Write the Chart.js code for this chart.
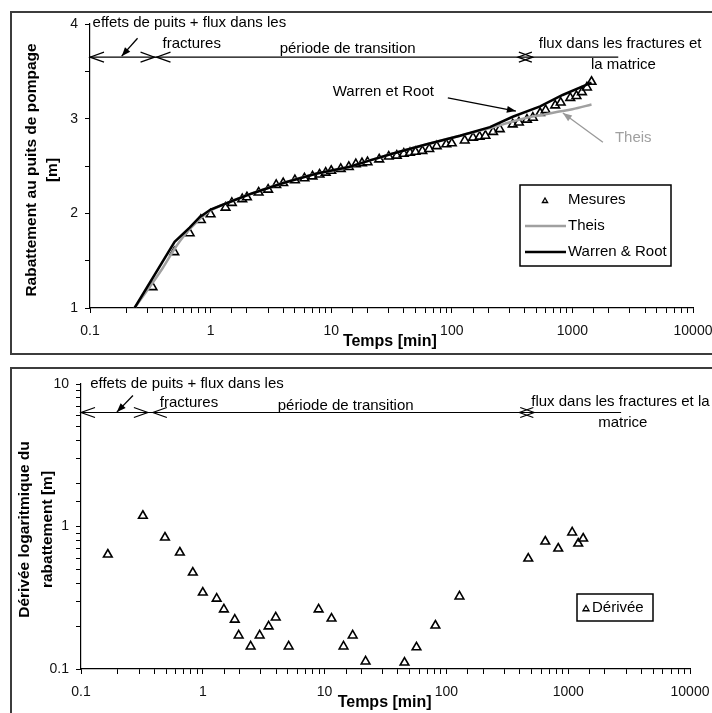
<!DOCTYPE html>
<html>
<head>
<meta charset="utf-8">
<script src="https://cdn.jsdelivr.net/npm/chart.js@4.4.0/dist/chart.umd.min.js"></script>
<style>
html, body { margin: 0; padding: 0; overflow: hidden; background: #fff; }
body { width: 712px; height: 713px; position: relative; }
.frame { position: absolute; border: 2px solid #3c3c3c; }
canvas { position: absolute; left: 0; }
</style>
</head>
<body>
<div class="frame" style="left:10px;top:11px;width:740px;height:340px"></div>
<div class="frame" style="left:10px;top:367px;width:740px;height:400px"></div>
<canvas id="rabChart" width="740" height="360" style="top:0"></canvas>
<canvas id="derChart" width="740" height="360" style="top:360px"></canvas>
<script>
// temps [min] et rabattement [m] mesures
const mesTimes = [0.33, 0.5, 0.67, 0.83, 1, 1.33, 1.5, 1.83, 2, 2.5, 3, 3.5, 4, 5, 6, 7, 8, 9, 10, 12, 14, 16, 18, 20,
    25, 30, 35, 40, 45, 50, 57, 65, 75, 90, 100, 128, 150, 170, 190, 220, 250, 320, 360, 420, 470, 540, 600, 720,
    800, 960, 1080, 1200, 1320, 1440];
const mesValues = [1.22, 1.59, 1.79, 1.93, 1.99, 2.06, 2.11, 2.15, 2.17, 2.22, 2.25, 2.30, 2.32, 2.35, 2.37, 2.39, 2.41, 2.43, 2.45, 2.47, 2.49, 2.52, 2.53, 2.54,
    2.57, 2.60, 2.61, 2.63, 2.64, 2.65, 2.66, 2.68, 2.71, 2.73, 2.74, 2.77, 2.80, 2.81, 2.82, 2.86, 2.89, 2.94, 2.96, 2.99, 3.01, 3.06, 3.09, 3.14,
    3.17, 3.22, 3.24, 3.28, 3.33, 3.39];

// modele de Theis
const theisTimes = [0.234, 0.4, 0.5, 0.6, 0.8, 1, 1.44, 2.2, 4, 7.6, 14, 21, 32, 62, 117, 207, 320, 420, 560, 740, 1000, 1440];
const theisValues = [1.0, 1.42, 1.62, 1.76, 1.93, 2.03, 2.12, 2.21, 2.32, 2.42, 2.49, 2.56, 2.63, 2.73, 2.82, 2.90, 2.97, 3.01, 3.04, 3.07, 3.10, 3.15];

// modele de Warren & Root
const wrTimes = [0.234, 0.503, 0.67, 0.81, 1, 1.44, 2.2, 4, 7.6, 14, 21, 32, 62, 117, 207, 320, 540, 830, 1440];
const wrValues = [1.0, 1.70, 1.85, 1.96, 2.04, 2.12, 2.21, 2.32, 2.42, 2.49, 2.56, 2.63, 2.73, 2.82, 2.91, 3.02, 3.13, 3.25, 3.38];

// derivee logarithmique
const derTimes = [0.166, 0.322, 0.489, 0.648, 0.828, 1.0, 1.30, 1.49, 1.83, 1.97, 2.47, 2.93, 3.47, 3.97, 5.07,
    8.93, 11.4, 14.3, 17.0, 21.7, 45.3, 56.8, 81.2, 128, 470, 648, 828, 1078, 1208, 1327];
const derValues = [0.636, 1.19, 0.837, 0.657, 0.475, 0.344, 0.312, 0.262, 0.222, 0.172, 0.144, 0.172, 0.199, 0.230, 0.144,
    0.262, 0.226, 0.144, 0.172, 0.113, 0.111, 0.142, 0.202, 0.323, 0.596, 0.785, 0.701, 0.908, 0.760, 0.824];

const timeTicks = [0.1, 1, 10, 100, 1000, 10000];
const rabTicks = [1, 2, 3, 4];
const derTicks = [0.1, 1, 10];

const FONT = 'Arial, "Liberation Sans", sans-serif';
const toPoints = (xs, ys) => xs.map((t, i) => ({x: t, y: ys[i]}));
const onlyTicks = list => v => {
    const r = Number(Number(v).toPrecision(6));
    return list.includes(r) ? String(r) : '';
};

function drawTriangle(ctx, x, y, r) {
    ctx.beginPath();
    for (let k = 0; k < 3; k++) {
        const a = k * 2 * Math.PI / 3;
        const px = x + Math.sin(a) * r, py = y - Math.cos(a) * r;
        k ? ctx.lineTo(px, py) : ctx.moveTo(px, py);
    }
    ctx.closePath();
    ctx.fillStyle = '#fff';
    ctx.fill();
    ctx.stroke();
}

// fleches, textes, titres d'axes et legende
const overlay = {
    id: 'overlay',
    afterDraw(chart, args, o) {
        const ctx = chart.ctx, area = chart.chartArea;
        const X = v => chart.scales.x.getPixelForValue(v);
        const Y = v => chart.scales.y.getPixelForValue(v);
        ctx.save();
        ctx.strokeStyle = '#000';
        ctx.lineWidth = 1.2;
        const sy = Y(o.spanY);
        ctx.beginPath();
        ctx.moveTo(X(o.spanX[0]), sy);
        ctx.lineTo(X(o.spanX[1]), sy);
        ctx.stroke();
        o.heads.forEach(([v, dir]) => {
            const tx = X(v), d = dir === 'left' ? 1 : -1;
            ctx.beginPath();
            ctx.moveTo(tx + d * 14, sy - 5);
            ctx.lineTo(tx, sy);
            ctx.lineTo(tx + d * 14, sy + 5);
            ctx.stroke();
        });
        o.arrows.forEach(a => {
            const x0 = X(a.from[0]), y0 = Y(a.from[1]), x1 = X(a.to[0]), y1 = Y(a.to[1]);
            const ang = Math.atan2(y1 - y0, x1 - x0);
            ctx.strokeStyle = a.color;
            ctx.fillStyle = a.color;
            ctx.lineWidth = 1.3;
            ctx.beginPath();
            ctx.moveTo(x0, y0);
            ctx.lineTo(x1, y1);
            ctx.stroke();
            ctx.beginPath();
            ctx.moveTo(x1, y1);
            ctx.lineTo(x1 - 9 * Math.cos(ang) + 3.5 * Math.sin(ang), y1 - 9 * Math.sin(ang) - 3.5 * Math.cos(ang));
            ctx.lineTo(x1 - 9 * Math.cos(ang) - 3.5 * Math.sin(ang), y1 - 9 * Math.sin(ang) + 3.5 * Math.cos(ang));
            ctx.closePath();
            ctx.fill();
        });
        ctx.font = '15px ' + FONT;
        ctx.textBaseline = 'middle';
        ctx.textAlign = 'left';
        o.texts.forEach(t => {
            ctx.fillStyle = t.color || '#000';
            ctx.fillText(t.text, X(t.at[0]), Y(t.at[1]));
        });

        // titres d'axes
        ctx.fillStyle = '#000';
        ctx.font = 'bold 16px ' + FONT;
        ctx.fillText(o.xTitle.text, X(o.xTitle.at), area.bottom + o.xTitle.dy);
        ctx.font = 'bold 15.5px ' + FONT;
        ctx.textAlign = 'center';
        const cy = (area.top + area.bottom) / 2 + o.yTitle.dy;
        o.yTitle.lines.forEach((line, i) => {
            ctx.save();
            ctx.translate(area.left + o.yTitle.dx[i], cy);
            ctx.rotate(-Math.PI / 2);
            ctx.fillText(line, 0, 0);
            ctx.restore();
        });

        // legende
        const lg = o.legend;
        const [bx, by, bw, bh] = lg.box;
        ctx.fillStyle = '#fff';
        ctx.fillRect(bx, by, bw, bh);
        ctx.strokeStyle = '#000';
        ctx.lineWidth = 1.5;
        ctx.strokeRect(bx, by, bw, bh);
        ctx.font = '15px ' + FONT;
        ctx.textAlign = 'left';
        lg.items.forEach(it => {
            const ds = chart.data.datasets[it.ds];
            const ry = by + it.dy;
            if (it.kind === 'point') {
                ctx.strokeStyle = ds.pointBorderColor;
                ctx.lineWidth = 1.3;
                drawTriangle(ctx, bx + it.sx, ry + 1, it.r);
            } else {
                ctx.strokeStyle = ds.borderColor;
                ctx.lineWidth = ds.borderWidth;
                ctx.beginPath();
                ctx.moveTo(bx + it.sx, ry);
                ctx.lineTo(bx + it.ex, ry);
                ctx.stroke();
            }
            ctx.fillStyle = '#000';
            ctx.fillText(ds.label, bx + lg.textX, ry);
        });
        ctx.restore();
    }
};

function axisX(padding) {
    return {
        type: 'logarithmic',
        min: 0.1,
        max: 10000,
        afterFit: s => { s.height = 30; },
        grid: { drawOnChartArea: false, drawTicks: true, tickLength: 5, color: '#000', tickWidth: 1 },
        border: { display: true, color: '#000', width: 1.2 },
        ticks: { autoSkip: false, maxRotation: 0, padding: padding, color: '#111', font: { family: FONT, size: 14 },
            callback: onlyTicks(timeTicks) }
    };
}

const rabDatasets = [
    { label: 'Warren & Root', data: toPoints(wrTimes, wrValues), showLine: true, pointRadius: 0,
      borderColor: '#000', borderWidth: 2.5, tension: 0 },
    { label: 'Theis', data: toPoints(theisTimes, theisValues), showLine: true, pointRadius: 0,
      borderColor: '#a0a0a0', borderWidth: 2.5, cubicInterpolationMode: 'monotone' },
    { label: 'Mesures', data: toPoints(mesTimes, mesValues), showLine: false, pointStyle: 'triangle',
      pointRadius: 5, pointBorderWidth: 1.6, pointBackgroundColor: '#fff', pointBorderColor: '#000' }
];

new Chart(document.getElementById('rabChart').getContext('2d'), {
    type: 'scatter',
    data: { datasets: rabDatasets },
    plugins: [overlay],
    options: {
        responsive: false,
        animation: false,
        layout: { padding: { left: 50, top: 24, right: 47, bottom: 22 } },
        scales: {
            x: axisX(10),
            y: {
                type: 'linear', min: 1, max: 4,
                afterFit: s => { s.width = 40; },
                grid: { drawOnChartArea: false, drawTicks: true, tickLength: 5, color: '#000' },
                border: { display: true, color: '#000', width: 1.2 },
                ticks: { stepSize: 0.5, autoSkip: false, padding: 7, color: '#111', font: { family: FONT, size: 14 },
                    callback: onlyTicks(rabTicks) }
            }
        },
        plugins: {
            legend: { display: false },
            tooltip: { enabled: false },
            overlay: {
                spanY: 3.65, spanX: [0.1, 2400],
                heads: [[0.1, 'left'], [0.343, 'right'], [0.356, 'left'], [470, 'right'], [353, 'left']],
                arrows: [
                    { from: [0.248, 3.85], to: [0.183, 3.66], color: '#000' },
                    { from: [92.7, 3.22], to: [340, 3.08], color: '#000' },
                    { from: [1791, 2.75], to: [834, 3.06], color: '#999' }
                ],
                texts: [
                    { text: 'effets de puits + flux dans les', at: [0.105, 4.01] },
                    { text: 'fractures', at: [0.40, 3.79] },
                    { text: 'période de transition', at: [3.74, 3.74] },
                    { text: 'flux dans les fractures et', at: [527, 3.79] },
                    { text: 'la matrice', at: [1425, 3.57] },
                    { text: 'Warren et Root', at: [10.3, 3.28] },
                    { text: 'Theis', at: [2253, 2.80], color: '#a0a0a0' }
                ],
                xTitle: { text: 'Temps [min]', at: 12.5, dy: 34 },
                yTitle: { lines: ['Rabattement au puits de pompage', '[m]'], dx: [-58, -37.5], dy: 4 },
                legend: {
                    box: [520, 185, 151, 81], textX: 48,
                    items: [
                        { ds: 2, kind: 'point', dy: 15, sx: 25, r: 3 },
                        { ds: 1, kind: 'line', dy: 41, sx: 5, ex: 46 },
                        { ds: 0, kind: 'line', dy: 67, sx: 5, ex: 46 }
                    ]
                }
            }
        }
    }
});

const derDatasets = [
    { label: 'Dérivée', data: toPoints(derTimes, derValues), showLine: false, pointStyle: 'triangle',
      pointRadius: 5, pointBorderWidth: 1.6, pointBackgroundColor: '#fff', pointBorderColor: '#000' }
];

new Chart(document.getElementById('derChart').getContext('2d'), {
    type: 'scatter',
    data: { datasets: derDatasets },
    plugins: [overlay],
    options: {
        responsive: false,
        animation: false,
        layout: { padding: { left: 41, top: 24, right: 50, bottom: 21 } },
        scales: {
            x: axisX(10),
            y: {
                type: 'logarithmic', min: 0.1, max: 10,
                afterFit: s => { s.width = 40; },
                grid: { drawOnChartArea: false, drawTicks: true, tickLength: 5, color: '#000' },
                border: { display: true, color: '#000', width: 1.2 },
                ticks: { autoSkip: false, padding: 7, color: '#111', font: { family: FONT, size: 14 },
                    callback: onlyTicks(derTicks) }
            }
        },
        plugins: {
            legend: { display: false },
            tooltip: { enabled: false },
            overlay: {
                spanY: 6.31, spanX: [0.1, 2718],
                heads: [[0.1, 'left'], [0.354, 'right'], [0.389, 'left'], [526, 'right'], [397, 'left']],
                arrows: [
                    { from: [0.267, 8.30], to: [0.197, 6.35], color: '#000' }
                ],
                texts: [
                    { text: 'effets de puits + flux dans les', at: [0.119, 10.1] },
                    { text: 'fractures', at: [0.444, 7.42] },
                    { text: 'période de transition', at: [4.12, 7.06] },
                    { text: 'flux dans les fractures et la', at: [497, 7.54] },
                    { text: 'matrice', at: [1762, 5.37] }
                ],
                xTitle: { text: 'Temps [min]', at: 12.8, dy: 34 },
                yTitle: { lines: ['Dérivée logaritmique du', 'rabattement [m]'], dx: [-56, -33.5], dy: 3 },
                legend: {
                    box: [577, 234, 76, 27], textX: 15,
                    items: [
                        { ds: 0, kind: 'point', dy: 14, sx: 9, r: 3.5 }
                    ]
                }
            }
        }
    }
});
</script>
</body>
</html>
